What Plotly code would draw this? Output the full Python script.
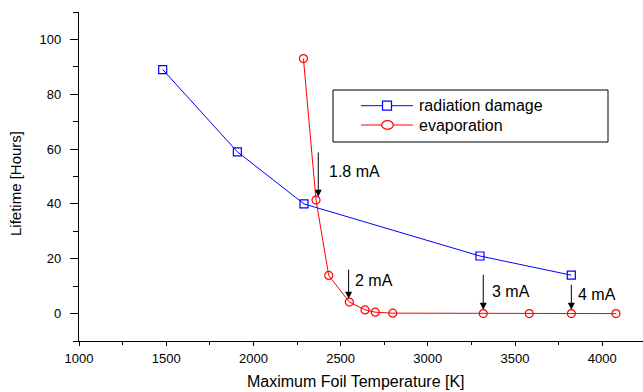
import plotly.graph_objects as go

# ---- data ----
rad_temp = [1480, 1908, 2290, 3299, 3823]
rad_life = [89, 59, 40, 21, 14]

evap_temp = [2287, 2359, 2432, 2550, 2640, 2699, 2799, 3318, 3582, 3823, 4079]
evap_life = [93.0, 41.4, 13.9, 4.2, 1.35, 0.5, 0.15, 0.0, 0.0, 0.0, 0.0]

current_labels = ["1.8 mA", "2 mA", "3 mA", "4 mA"]
arrow_x = [2372, 2546, 3318, 3823]
arrow_top = [59.3, 16.6, 14.7, 11.05]
arrow_tip = [42.6, 5.4, 1.4, 1.4]
label_x = [2420, 2573, 3355, 3852]
label_y = [51.7, 11.9, 8.2, 6.8]

x_ticks = [1000, 1500, 2000, 2500, 3000, 3500, 4000]
y_ticks = [0, 20, 40, 60, 80, 100]

FONT = "Liberation Sans, Arial, Helvetica, sans-serif"
W, H = 643, 392
L, R, T, B = 79, 0, 12, 51
PW, PH = W - L - R, H - T - B


def px(xp):
    return (xp - L) / PW


def py(yp):
    return (H - B - yp) / PH


fig = go.Figure()
fig.add_trace(go.Scatter(
    x=rad_temp, y=rad_life, mode="lines+markers", name="radiation damage",
    line=dict(color="#0000ff", width=1),
    marker=dict(symbol="square-open", size=8, color="#0000ff", line=dict(width=1.2)),
    showlegend=False,
))
fig.add_trace(go.Scatter(
    x=evap_temp, y=evap_life, mode="lines+markers", name="evaporation",
    line=dict(color="#ff0000", width=1),
    marker=dict(symbol="circle-open", size=8, color="#ff0000", line=dict(width=1.2)),
    showlegend=False,
))

annotations = []
for lab, ax_, top, tip, lx, ly in zip(current_labels, arrow_x, arrow_top, arrow_tip, label_x, label_y):
    annotations.append(dict(
        x=ax_, y=tip, ax=ax_, ay=top, xref="x", yref="y", axref="x", ayref="y",
        text="", showarrow=True, arrowhead=2, arrowsize=1.4, arrowwidth=1,
        arrowcolor="black", standoff=0, startstandoff=0,
    ))
    annotations.append(dict(
        x=lx, y=ly, xref="x", yref="y", text=lab, showarrow=False,
        xanchor="left", yanchor="middle", font=dict(size=16, color="black", family=FONT),
    ))

# axis titles
annotations.append(dict(
    x=px(356), y=py(381), xref="paper", yref="paper", text="Maximum Foil Temperature [K]",
    showarrow=False, xanchor="center", yanchor="middle",
    font=dict(size=16, color="black", family=FONT),
))
annotations.append(dict(
    x=px(15), y=py(184), xref="paper", yref="paper", text="Lifetime [Hours]",
    showarrow=False, xanchor="center", yanchor="middle", textangle=-90,
    font=dict(size=15, color="black", family=FONT),
))

# legend (drawn manually)
shapes = [
    dict(type="rect", xref="paper", yref="paper", x0=px(333), x1=px(608), y0=py(90), y1=py(142),
         line=dict(color="black", width=1), fillcolor="white", layer="above"),
    dict(type="line", xref="paper", yref="paper", x0=px(361), x1=px(413), y0=py(105.7), y1=py(105.7),
         line=dict(color="#0000ff", width=1), layer="above"),
    dict(type="rect", xref="paper", yref="paper", xsizemode="pixel", ysizemode="pixel",
         xanchor=px(387), yanchor=py(105.7), x0=-4.5, x1=4.5, y0=-4.5, y1=4.5,
         line=dict(color="#0000ff", width=1.2), fillcolor="white", layer="above"),
    dict(type="line", xref="paper", yref="paper", x0=px(361), x1=px(413), y0=py(125), y1=py(125),
         line=dict(color="#ff0000", width=1), layer="above"),
    dict(type="circle", xref="paper", yref="paper", xsizemode="pixel", ysizemode="pixel",
         xanchor=px(387.5), yanchor=py(125), x0=-5.8, x1=5.8, y0=-4.3, y1=4.3,
         line=dict(color="#ff0000", width=1.2), fillcolor="white", layer="above"),
]
annotations.append(dict(
    x=px(417), y=py(105.7), xref="paper", yref="paper", text="radiation damage",
    showarrow=False, xanchor="left", yanchor="middle",
    font=dict(size=16, color="black", family=FONT),
))
annotations.append(dict(
    x=px(417), y=py(125), xref="paper", yref="paper", text="evaporation",
    showarrow=False, xanchor="left", yanchor="middle",
    font=dict(size=16, color="black", family=FONT),
))

fig.update_layout(
    width=W, height=H,
    margin=dict(l=L, r=R, t=T, b=B, pad=0),
    paper_bgcolor="white", plot_bgcolor="white",
    font=dict(family=FONT, color="black", size=13),
    annotations=annotations, shapes=shapes,
    showlegend=False,
)
fig.update_xaxes(
    range=[1000, 1000 + PW / 0.1744], showgrid=False, zeroline=False,
    showline=True, linecolor="black", linewidth=1.2,
    tickmode="array", tickvals=x_ticks, ticktext=[str(v) for v in x_ticks],
    ticks="outside", ticklen=4, tickwidth=1, tickcolor="black",
    minor=dict(dtick=250, tick0=1000, ticks="outside", ticklen=3, tickwidth=1, tickcolor="black"),
    tickfont=dict(size=13, family=FONT), ticklabelstandoff=1,
)
fig.update_yaxes(
    range=[-10, 110], showgrid=False, zeroline=False,
    showline=True, linecolor="black", linewidth=1.2,
    tickmode="array", tickvals=y_ticks, ticktext=[str(v) for v in y_ticks],
    ticks="outside", ticklen=8, tickwidth=1, tickcolor="black",
    minor=dict(dtick=10, tick0=-10, ticks="outside", ticklen=5, tickwidth=1, tickcolor="black"),
    tickfont=dict(size=13, family=FONT), ticklabelstandoff=6,
)

fig.write_html("out.html")
